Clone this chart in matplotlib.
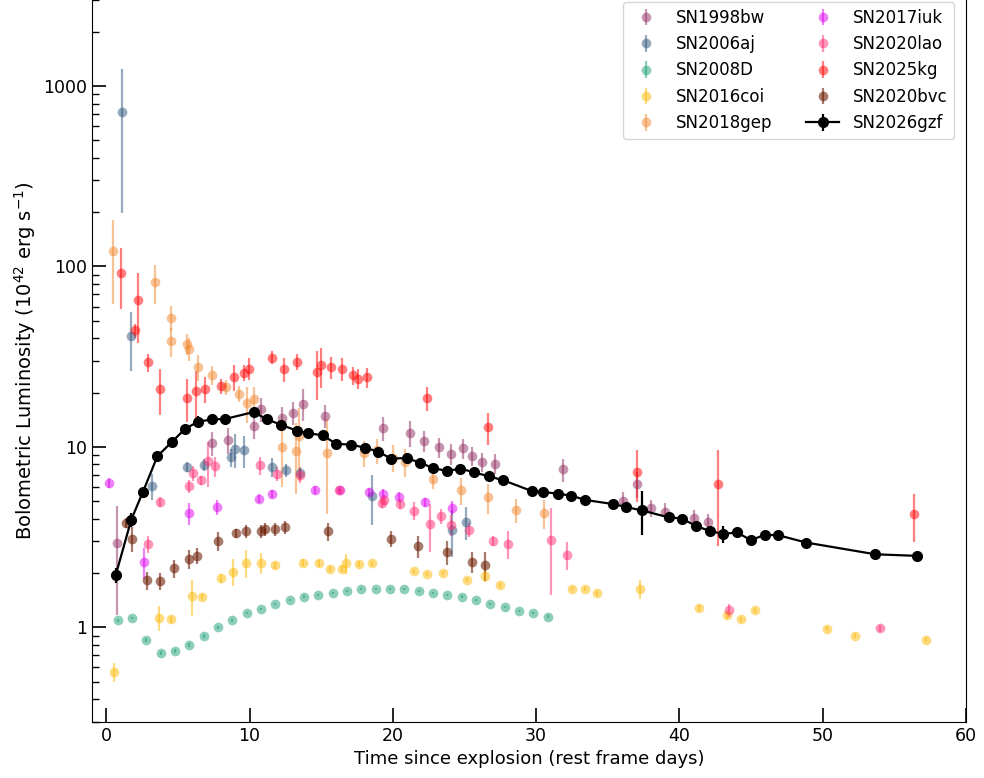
import matplotlib
matplotlib.use("Agg")
import matplotlib.pyplot as plt
from matplotlib.ticker import FuncFormatter, LogLocator, NullFormatter

# ---------------- data ----------------
sn1998bw_t = [0.77, 7.38, 8.47, 10.33, 10.77, 12.28, 13.03, 13.75, 15.24, 19.31, 21.20, 22.21, 23.20,
              24.07, 24.92, 25.51, 26.23, 27.10, 31.87, 36.05, 37.02, 38.04, 38.97, 41.02, 42.01]
sn1998bw_L = [2.95, 10.5, 10.9, 13.1, 16.2, 14.4, 15.5, 17.4, 14.9, 12.7, 12.0, 10.8, 9.97,
              9.19, 9.82, 8.89, 8.28, 8.08, 7.51, 5.01, 6.22, 4.61, 4.38, 4.06, 3.84]
sn1998bw_e = [1.78, 1.6, 1.8, 2.0, 2.5, 2.2, 2.3, 3.5, 2.2, 1.9, 2.0, 1.4, 1.3,
              1.2, 1.3, 1.1, 1.0, 1.0, 1.1, 0.6, 1.0, 0.5, 0.5, 0.4, 0.4]

sn2006aj_t = [1.11, 1.74, 3.18, 5.61, 6.85, 8.73, 8.96, 9.63, 11.58, 12.57, 13.53, 18.52, 24.10, 25.09]
sn2006aj_L = [719, 41.2, 6.05, 7.74, 7.98, 8.76, 9.73, 9.57, 7.74, 7.42, 7.16, 5.34, 3.46, 3.83]
sn2006aj_e = [520, 14.7, 1.0, 0.5, 0.6, 1.0, 2.1, 1.9, 0.9, 0.6, 0.6, 1.65, 1.0, 0.8]

sn2008D_t = [0.8, 1.8, 2.8, 3.8, 4.8, 5.8, 6.8, 7.8, 8.8, 9.8, 10.8, 11.8, 12.8, 13.8, 14.8, 15.8,
             16.8, 17.8, 18.8, 19.8, 20.8, 21.8, 22.8, 23.8, 24.8, 25.8, 26.8, 27.8, 28.8, 29.8, 30.8]
sn2008D_L = [1.093, 1.126, 0.850, 0.724, 0.741, 0.797, 0.895, 1.003, 1.096, 1.200, 1.266, 1.350,
             1.420, 1.482, 1.520, 1.547, 1.584, 1.624, 1.631, 1.628, 1.628, 1.589, 1.549, 1.514,
             1.482, 1.417, 1.350, 1.294, 1.231, 1.200, 1.146]
sn2008D_e = [0.02, 0.02, 0.02, 0.02, 0.02, 0.02, 0.02, 0.02, 0.02, 0.02, 0.02, 0.02, 0.02, 0.02,
             0.02, 0.02, 0.02, 0.02, 0.02, 0.02, 0.02, 0.02, 0.02, 0.02, 0.02, 0.02, 0.02, 0.02,
             0.02, 0.02, 0.02]

sn2016coi_t = [0.57, 3.68, 4.53, 5.96, 6.71, 8.03, 8.82, 9.77, 10.79, 11.79, 13.76, 14.87, 15.62,
               16.43, 16.73, 17.63, 18.54, 21.49, 22.40, 23.51, 25.20, 26.46, 27.48, 32.52, 33.43,
               34.26, 37.26, 41.34, 43.34, 44.29, 45.31, 50.30, 52.30, 57.21]
sn2016coi_L = [0.567, 1.132, 1.111, 1.489, 1.480, 1.869, 2.036, 2.278, 2.278, 2.207, 2.278, 2.270,
               2.097, 2.110, 2.264, 2.249, 2.264, 2.062, 1.985, 2.010, 1.829, 1.930, 1.709, 1.631,
               1.631, 1.543, 1.631, 1.286, 1.166, 1.107, 1.247, 0.983, 0.899, 0.855]
sn2016coi_e = [0.07, 0.18, 0.05, 0.33, 0.05, 0.1, 0.35, 0.4, 0.3, 0.1, 0.1, 0.1, 0.08,
               0.08, 0.3, 0.08, 0.08, 0.05, 0.05, 0.05, 0.05, 0.15, 0.05, 0.05, 0.05,
               0.05, 0.2, 0.05, 0.05, 0.04, 0.04, 0.03, 0.03, 0.03]

sn2018gep_t = [0.46, 3.41, 4.53, 4.48, 5.64, 5.75, 6.39, 7.38, 8.36, 9.28, 9.82, 10.28, 12.29,
               13.27, 13.48, 15.39, 17.99, 18.91, 20.01, 20.88, 22.81, 24.76, 26.67, 28.59, 30.54]
sn2018gep_L = [121.9, 82.0, 52.1, 38.4, 37.4, 34.9, 27.7, 25.1, 21.5, 19.7, 17.5, 18.5, 10.0,
               9.51, 11.5, 9.25, 9.25, 9.57, 8.73, 8.28, 6.63, 5.74, 5.26, 4.47, 4.30]
sn2018gep_e = [60, 20, 8, 7, 5, 5, 4.5, 3, 2, 2, 4, 3, 4,
               4, 5, 5, 1.5, 1.5, 1.5, 1.5, 0.8, 1.0, 1.0, 0.7, 0.8]

sn2017iuk_t = [0.18, 2.62, 5.78, 7.73, 10.69, 11.59, 14.56, 16.29, 18.36, 19.33, 20.40, 22.24, 24.12]
sn2017iuk_L = [6.31, 2.30, 4.30, 4.65, 5.17, 5.50, 5.75, 5.75, 5.62, 5.51, 5.29, 4.92, 4.59]
sn2017iuk_e = [0.4, 0.45, 0.6, 0.45, 0.3, 0.3, 0.3, 0.25, 0.3, 0.3, 0.3, 0.3, 0.4]

sn2020lao_t = [2.90, 3.78, 5.75, 6.06, 6.64, 7.10, 7.56, 10.76, 11.89, 13.50, 16.27, 19.22, 19.40,
               20.53, 21.49, 22.57, 23.33, 24.06, 25.32, 27.01, 28.07, 31.01, 32.17, 43.47, 54.01]
sn2020lao_L = [2.89, 4.95, 6.05, 7.17, 6.53, 8.32, 7.81, 7.91, 7.11, 6.98, 5.75, 4.90, 5.09,
               4.85, 4.44, 3.72, 4.14, 3.71, 3.48, 3.02, 2.90, 3.06, 2.52, 1.247, 0.987]
sn2020lao_e = [0.3, 0.3, 0.5, 0.7, 0.4, 2.3, 1.0, 0.9, 0.6, 0.7, 0.2, 0.3, 0.3,
               0.3, 0.5, 1.1, 0.4, 0.5, 0.3, 0.2, 0.5, 1.55, 0.45, 0.1, 0.04]

sn2025kg_t = [1.04, 1.99, 2.18, 2.90, 3.78, 5.61, 6.24, 6.87, 8.03, 8.89, 9.58, 9.93, 11.56, 12.37,
              13.30, 14.69, 14.99, 15.68, 16.47, 17.24, 17.55, 18.20, 22.36, 26.64, 37.05, 42.71, 56.41]
sn2025kg_L = [92.0, 44.3, 64.9, 29.4, 21.0, 18.7, 20.3, 21.0, 21.7, 24.5, 25.8, 27.2, 31.3, 27.0,
              29.6, 26.1, 28.3, 27.7, 27.2, 24.9, 23.9, 24.3, 18.6, 12.9, 7.26, 6.23, 4.23]
sn2025kg_e = [34, 4, 27, 3.5, 6, 5, 6, 3.5, 2, 4, 2.5, 3.8, 2.5, 4,
              3, 8, 7, 4, 4, 3, 3, 3, 2.8, 2.6, 2.3, 3.4, 1.25]

sn2020bvc_t = [1.39, 1.81, 2.86, 3.78, 4.71, 5.78, 6.34, 7.80, 9.05, 9.77, 10.79, 11.09, 11.80,
               12.50, 15.46, 19.85, 21.77, 23.75, 25.56, 26.46]
sn2020bvc_L = [3.80, 3.10, 1.82, 1.81, 2.12, 2.40, 2.50, 3.01, 3.33, 3.41, 3.41, 3.50, 3.51,
               3.60, 3.41, 3.10, 2.81, 2.62, 2.30, 2.21]
sn2020bvc_e = [0.25, 0.5, 0.2, 0.2, 0.25, 0.3, 0.25, 0.35, 0.2, 0.3, 0.3, 0.3, 0.3,
               0.3, 0.4, 0.3, 0.4, 0.4, 0.3, 0.4]

sn2026gzf_t = [0.65, 1.74, 2.55, 3.57, 4.55, 5.50, 6.41, 7.38, 8.31, 10.28, 11.23, 12.16, 13.30,
               14.11, 15.11, 16.04, 17.08, 18.06, 18.96, 19.90, 20.96, 21.89, 22.81, 23.79, 24.72,
               25.67, 26.71, 27.72, 29.69, 30.50, 31.50, 32.45, 33.45, 35.40, 36.30, 37.37, 39.25,
               40.18, 41.16, 42.13, 43.06, 44.01, 45.01, 45.96, 46.91, 48.86, 53.69, 56.57]
sn2026gzf_L = [1.94, 3.95, 5.62, 8.9, 10.6, 12.6, 13.8, 14.2, 14.3, 15.6, 14.2, 13.3, 12.3,
               11.9, 11.6, 10.4, 10.3, 9.9, 9.42, 8.61, 8.68, 8.18, 7.64, 7.35, 7.58,
               7.23, 6.87, 6.53, 5.70, 5.62, 5.51, 5.37, 5.08, 4.82, 4.64, 4.45, 4.07,
               4.01, 3.65, 3.42, 3.29, 3.36, 3.04, 3.26, 3.24, 2.95, 2.54, 2.49]
sn2026gzf_e = [0.18, 0.35, 0.3, 0.4, 0.5, 0.6, 1.0, 1.0, 0.9, 1.0, 0.6, 0.5, 0.5,
               0.4, 0.4, 0.3, 0.3, 0.3, 0.3, 0.3, 0.3, 0.3, 0.25, 0.25, 0.25,
               0.25, 0.2, 0.2, 0.15, 0.15, 0.15, 0.15, 0.15, 0.12, 0.12, 1.22, 0.12,
               0.1, 0.1, 0.1, 0.36, 0.1, 0.1, 0.1, 0.1, 0.08, 0.06, 0.06]

comparison = [
    ("SN1998bw", sn1998bw_t, sn1998bw_L, sn1998bw_e, "#8f2d60", 0.5),
    ("SN2006aj", sn2006aj_t, sn2006aj_L, sn2006aj_e, "#2f557d", 0.5),
    ("SN2008D", sn2008D_t, sn2008D_L, sn2008D_e, "#1b9e77", 0.5),
    ("SN2016coi", sn2016coi_t, sn2016coi_L, sn2016coi_e, "#fdb905", 0.5),
    ("SN2018gep", sn2018gep_t, sn2018gep_L, sn2018gep_e, "#f1872d", 0.5),
    ("SN2017iuk", sn2017iuk_t, sn2017iuk_L, sn2017iuk_e, "#dc00f0", 0.5),
    ("SN2020lao", sn2020lao_t, sn2020lao_L, sn2020lao_e, "#ff2d73", 0.5),
    ("SN2025kg", sn2025kg_t, sn2025kg_L, sn2025kg_e, "#ff0000", 0.5),
    ("SN2020bvc", sn2020bvc_t, sn2020bvc_L, sn2020bvc_e, "#6a1a00", 0.58),
]

# ---------------- plot ----------------
fig = plt.figure(figsize=(9.84, 7.78), dpi=100)
ax = fig.add_axes([0.0935, 0.0724, 0.888, 1.0 - 0.0724])

for name, t, L, e, c, a in comparison:
    ax.errorbar(t, L, yerr=e, fmt='o', color=c, ms=7, elinewidth=1.6,
                alpha=a, capsize=0, label=name, mec='none')

ax.errorbar(sn2026gzf_t, sn2026gzf_L, yerr=sn2026gzf_e, fmt='-o', color='k', ms=7,
            lw=1.6, elinewidth=1.6, capsize=0, label="SN2026gzf")

ax.set_yscale('log')
ax.set_xlim(-1, 60)
ax.set_ylim(0.3, 3000)
ax.spines['top'].set_visible(False)

ax.yaxis.set_major_locator(LogLocator(base=10, numticks=10))
ax.yaxis.set_major_formatter(FuncFormatter(lambda v, p: f"{v:g}"))
ax.yaxis.set_minor_formatter(NullFormatter())

ax.tick_params(which='major', direction='in', length=10, width=1.2, labelsize=12.5)
ax.tick_params(which='minor', direction='in', length=5, width=1.0)
ax.tick_params(axis='x', which='minor', bottom=False)

ax.set_xlabel("Time since explosion (rest frame days)", fontsize=13)
ax.set_ylabel(r"Bolometric Luminosity (10$^{42}$ erg s$^{-1}$)", fontsize=14)

ax.legend(loc='upper right', ncol=2, fontsize=12, borderaxespad=0,
          bbox_to_anchor=(0.9865, 0.9972))

fig.savefig("out.png", dpi=100)
